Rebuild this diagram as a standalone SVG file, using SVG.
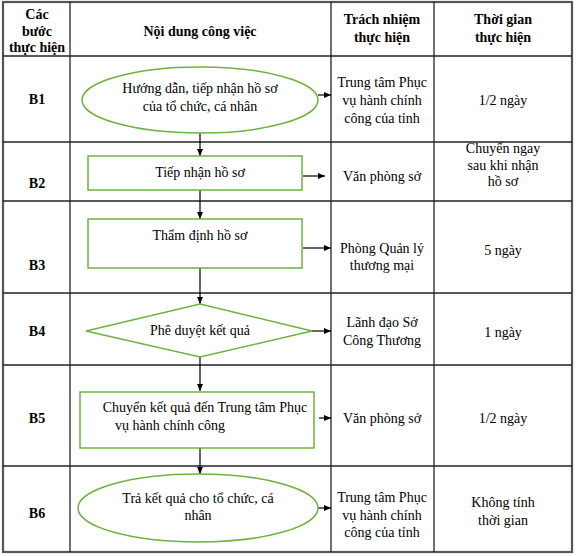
<svg xmlns="http://www.w3.org/2000/svg" width="576" height="556" viewBox="0 0 576 556" font-family="'Liberation Serif', 'Times New Roman', 'DejaVu Serif', serif">
<defs>
<marker id="ah" markerWidth="8" markerHeight="8" refX="7" refY="4" orient="auto" markerUnits="userSpaceOnUse">
<path d="M0,1 L7,4 L0,7 Z" fill="#000"/>
</marker>
<style>
text{font-family:'Liberation Serif','Times New Roman','DejaVu Serif',serif;font-size:14px;fill:#000;text-anchor:middle;dominant-baseline:central}
.b{font-weight:bold}
.grid{stroke:#222;stroke-width:1.3;fill:none}
.outer{stroke:#555;stroke-width:2.2;fill:none}
.shape{stroke:#6db33f;stroke-width:1.5;fill:#fff}
.conn{stroke:#000;stroke-width:1.2;fill:none;marker-end:url(#ah)}
</style>
</defs>
<rect width="576" height="556" fill="#fff"/>
<g id="table">
<rect class="outer" x="3" y="2" width="569" height="550"/>
<line class="grid" x1="70" y1="2" x2="70" y2="552"/>
<line class="grid" x1="331" y1="2" x2="331" y2="552"/>
<line class="grid" x1="434" y1="2" x2="434" y2="552"/>
<line class="grid" x1="3" y1="56" x2="572" y2="56"/>
<line class="grid" x1="3" y1="142" x2="572" y2="142"/>
<line class="grid" x1="3" y1="201" x2="572" y2="201"/>
<line class="grid" x1="3" y1="293" x2="572" y2="293"/>
<line class="grid" x1="3" y1="365" x2="572" y2="365"/>
<line class="grid" x1="3" y1="466" x2="572" y2="466"/>
</g>
<g id="headers">
<text class="b" x="37" y="14">Các</text>
<text class="b" x="37" y="31">bước</text>
<text class="b" x="37" y="47">thực hiện</text>
<text class="b" x="200" y="31">Nội dung công việc</text>
<text class="b" x="382" y="19">Trách nhiệm</text>
<text class="b" x="382" y="37">thực hiện</text>
<text class="b" x="503" y="19">Thời gian</text>
<text class="b" x="503" y="37">thực hiện</text>
</g>
<g id="steps">
<text class="b" x="37" y="99">B1</text>
<text class="b" x="37" y="183">B2</text>
<text class="b" x="37" y="265">B3</text>
<text class="b" x="37" y="331">B4</text>
<text class="b" x="37" y="418">B5</text>
<text class="b" x="37" y="513">B6</text>
</g>
<g id="connectors">
<line class="conn" x1="200" y1="133" x2="200" y2="156"/>
<line class="conn" x1="200" y1="190" x2="200" y2="219"/>
<line class="conn" x1="200" y1="268" x2="200" y2="304"/>
<line class="conn" x1="200" y1="357" x2="200" y2="391"/>
<line class="conn" x1="200" y1="448" x2="200" y2="474"/>
<line class="conn" x1="318" y1="95" x2="331" y2="95"/>
<line class="conn" x1="303" y1="176" x2="325" y2="176"/>
<line class="conn" x1="303" y1="248" x2="331" y2="248"/>
<line class="conn" x1="312" y1="331" x2="331" y2="331"/>
<line class="conn" x1="319" y1="418" x2="331" y2="418"/>
<line class="conn" x1="318" y1="508" x2="331" y2="508"/>
</g>
<g id="n1">
<ellipse class="shape" cx="200" cy="100" rx="118" ry="33"/>
<text x="200" y="88">Hướng dẫn, tiếp nhận hồ sơ</text>
<text x="200" y="106">của tổ chức, cá nhân</text>
</g>
<g id="n2">
<rect class="shape" x="88" y="156" width="214" height="34"/>
<text x="200" y="172">Tiếp nhận hồ sơ</text>
</g>
<g id="n3">
<rect class="shape" x="88" y="219" width="214" height="49"/>
<text x="200" y="235">Thẩm định hồ sơ</text>
</g>
<g id="n4">
<polygon class="shape" points="200,304 312,331 200,357 86,331"/>
<text x="200" y="330">Phê duyệt kết quả</text>
</g>
<g id="n5">
<rect class="shape" x="80" y="392" width="234" height="56"/>
<text x="205" y="407">Chuyển kết quả đến Trung tâm Phục</text>
<text x="115" y="425" style="text-anchor:start">vụ hành chính công</text>
</g>
<g id="n6">
<ellipse class="shape" cx="198" cy="508" rx="120" ry="34"/>
<text x="198" y="498">Trả kết quả cho tổ chức, cá</text>
<text x="198" y="515">nhân</text>
</g>
<g id="responsibility">
<text x="382" y="82">Trung tâm Phục</text>
<text x="382" y="100">vụ hành chính</text>
<text x="382" y="118">công của tỉnh</text>
<text x="382" y="176">Văn phòng sở</text>
<text x="382" y="248">Phòng Quản lý</text>
<text x="382" y="265">thương mại</text>
<text x="382" y="322">Lãnh đạo Sở</text>
<text x="382" y="340">Công Thương</text>
<text x="382" y="418">Văn phòng sở</text>
<text x="382" y="497">Trung tâm Phục</text>
<text x="382" y="515">vụ hành chính</text>
<text x="382" y="532">công của tỉnh</text>
</g>
<g id="time">
<text x="503" y="100">1/2 ngày</text>
<text x="503" y="148">Chuyển ngay</text>
<text x="503" y="165">sau khi nhận</text>
<text x="503" y="181">hồ sơ</text>
<text x="503" y="250">5 ngày</text>
<text x="503" y="332">1 ngày</text>
<text x="503" y="418">1/2 ngày</text>
<text x="503" y="502">Không tính</text>
<text x="503" y="520">thời gian</text>
</g>
</svg>
